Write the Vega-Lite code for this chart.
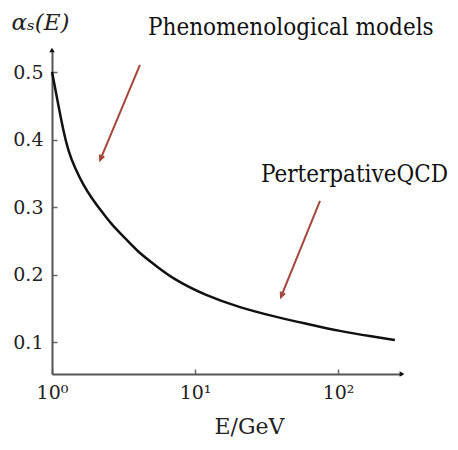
{
  "$schema": "https://vega.github.io/schema/vega-lite/v6.json",
  "width": 350,
  "height": 324,
  "autosize": {"type": "none"},
  "padding": {"left": 52, "top": 50, "right": 56, "bottom": 76},
  "background": "white",
  "config": {"view": {"stroke": null}},
  "datasets": {
    "curve": [
      {"E": 1.0, "a": 0.5},
      {"E": 1.02, "a": 0.491},
      {"E": 1.107, "a": 0.451},
      {"E": 1.2, "a": 0.413},
      {"E": 1.3, "a": 0.383},
      {"E": 1.45, "a": 0.357},
      {"E": 1.655, "a": 0.333},
      {"E": 1.895, "a": 0.313},
      {"E": 2.23, "a": 0.293},
      {"E": 2.61, "a": 0.274},
      {"E": 3.24, "a": 0.254},
      {"E": 4.01, "a": 0.233},
      {"E": 5.25, "a": 0.214},
      {"E": 7.05, "a": 0.193},
      {"E": 12.1, "a": 0.168},
      {"E": 20.6, "a": 0.151},
      {"E": 35.3, "a": 0.138},
      {"E": 60.4, "a": 0.127},
      {"E": 103, "a": 0.116},
      {"E": 176, "a": 0.108},
      {"E": 250, "a": 0.103}
    ],
    "arrows": [
      {"E": 4.12, "a": 0.5104, "E2": 2.17, "a2": 0.3696, "ang": 22.8},
      {"E": 74.8, "a": 0.3089, "E2": 39.9, "a2": 0.1667, "ang": 22.1}
    ],
    "labels": [
      {"E": 4.69, "a": 0.5548, "t": "Phenomenological models"},
      {"E": 28.9, "a": 0.337, "t": "PerterpativeQCD"}
    ],
    "axisEnds": [
      {"E": 1, "a": 0.5326, "s": "triangle-up"},
      {"E": 280, "a": 0.0526, "s": "triangle-right"}
    ]
  },
  "layer": [
    {
      "data": {"name": "curve"},
      "mark": {"type": "line", "color": "#111", "strokeWidth": 2.5, "interpolate": "basis"},
      "encoding": {
        "x": {
          "field": "E", "type": "quantitative",
          "scale": {"type": "log", "domain": [1, 280], "nice": false},
          "axis": {
            "values": [1, 10, 100],
            "labelExpr": "datum.value == 1 ? '10⁰' : datum.value == 10 ? '10¹' : '10²'",
            "title": "E/GeV",
            "titleFont": "DejaVu Serif",
            "titleFontSize": 22,
            "titleFontWeight": "normal",
            "titleColor": "#222",
            "titleX": 197,
            "titleY": 59,
            "titleAnchor": "middle",
            "titleBaseline": "alphabetic",
            "labelFont": "DejaVu Serif",
            "labelFontSize": 19,
            "labelColor": "#222",
            "labelPadding": 14,
            "labelFlush": false,
            "domainColor": "#555",
            "domainWidth": 2,
            "tickColor": "#666",
            "tickSize": -5,
            "tickWidth": 1.5,
            "grid": false
          }
        },
        "y": {
          "field": "a", "type": "quantitative",
          "scale": {"domain": [0.0526, 0.5326], "nice": false, "zero": false},
          "axis": {
            "values": [0.1, 0.2, 0.3, 0.4, 0.5],
            "format": ".1f",
            "title": "αₛ(E)",
            "titleAngle": 0,
            "titleAlign": "left",
            "titleBaseline": "alphabetic",
            "titleX": -41,
            "titleY": -21,
            "titleFont": "DejaVu Serif",
            "titleFontStyle": "italic",
            "titleFontSize": 23,
            "titleFontWeight": "normal",
            "titleColor": "#222",
            "labelFont": "DejaVu Serif",
            "labelFontSize": 19,
            "labelColor": "#222",
            "labelPadding": 14,
            "domainColor": "#555",
            "domainWidth": 2,
            "tickColor": "#666",
            "tickSize": -5,
            "tickWidth": 1.5,
            "grid": false
          }
        }
      }
    },
    {
      "data": {"name": "arrows"},
      "mark": {"type": "rule", "color": "#a4463a", "strokeWidth": 2, "clip": false},
      "encoding": {
        "x": {"field": "E", "type": "quantitative"},
        "y": {"field": "a", "type": "quantitative"},
        "x2": {"field": "E2"},
        "y2": {"field": "a2"}
      }
    },
    {
      "data": {"name": "arrows"},
      "mark": {"type": "point", "shape": "M-0.6,-1.3L0,0L0.6,-1.3", "filled": false, "stroke": "#a4463a", "strokeWidth": 2, "size": 60, "opacity": 1, "clip": false},
      "encoding": {
        "x": {"field": "E2", "type": "quantitative"},
        "y": {"field": "a2", "type": "quantitative"},
        "angle": {"field": "ang", "type": "quantitative", "scale": null}
      }
    },
    {
      "data": {"name": "labels"},
      "mark": {"type": "text", "align": "left", "baseline": "alphabetic", "font": "'DejaVu Serif Condensed', 'DejaVu Serif'", "fontSize": 24, "color": "#111", "clip": false},
      "encoding": {
        "x": {"field": "E", "type": "quantitative"},
        "y": {"field": "a", "type": "quantitative"},
        "text": {"field": "t"}
      }
    },
    {
      "data": {"name": "axisEnds"},
      "mark": {"type": "point", "filled": true, "color": "#111", "size": 30, "opacity": 1, "clip": false},
      "encoding": {
        "x": {"field": "E", "type": "quantitative"},
        "y": {"field": "a", "type": "quantitative"},
        "shape": {"field": "s", "type": "nominal", "scale": null}
      }
    }
  ]
}
